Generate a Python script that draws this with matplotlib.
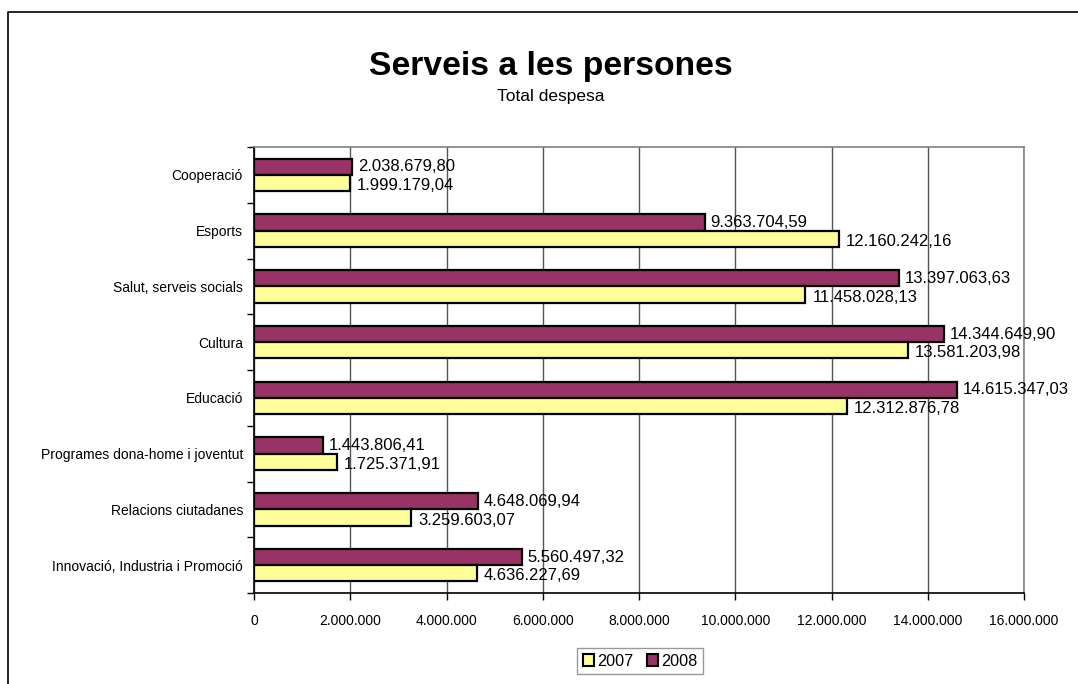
import matplotlib
matplotlib.use("Agg")
import matplotlib.pyplot as plt
from matplotlib.lines import Line2D
from matplotlib.patches import Patch
import numpy as np

categories = ["Cooperació", "Esports", "Salut, serveis socials", "Cultura", "Educació",
              "Programes dona-home i joventut", "Relacions ciutadanes",
              "Innovació, Industria i Promoció"]
values_2007 = [1999179.04, 12160242.16, 11458028.13, 13581203.98, 12312876.78,
               1725371.91, 3259603.07, 4636227.69]
values_2008 = [2038679.80, 9363704.59, 13397063.63, 14344649.90, 14615347.03,
               1443806.41, 4648069.94, 5560497.32]
labels_2007 = ["1.999.179,04", "12.160.242,16", "11.458.028,13", "13.581.203,98",
               "12.312.876,78", "1.725.371,91", "3.259.603,07", "4.636.227,69"]
labels_2008 = ["2.038.679,80", "9.363.704,59", "13.397.063,63", "14.344.649,90",
               "14.615.347,03", "1.443.806,41", "4.648.069,94", "5.560.497,32"]
xticks = [0, 2000000, 4000000, 6000000, 8000000, 10000000, 12000000, 14000000, 16000000]
xtick_labels = ["0", "2.000.000", "4.000.000", "6.000.000", "8.000.000", "10.000.000",
                "12.000.000", "14.000.000", "16.000.000"]

plt.rcParams['font.family'] = ['Liberation Sans', 'DejaVu Sans']

c2007 = "#FFFF99"
c2008 = "#993366"

fig = plt.figure(figsize=(10.78, 6.84), dpi=100)
ax = fig.add_axes([254/1078, 1 - 593/684, (1024-254)/1078, (593-147)/684])

n = len(categories)
y = np.arange(n)
h = 0.29
ax.barh(y - h/2, values_2008, height=h, color=c2008, edgecolor="black", linewidth=1.6, zorder=3)
ax.barh(y + h/2, values_2007, height=h, color=c2007, edgecolor="black", linewidth=1.6, zorder=3)

for i in range(n):
    ax.annotate(labels_2008[i], (values_2008[i], y[i] - h/2), xytext=(4, 0),
                textcoords="offset points", va="center", ha="left", fontsize=12, zorder=4)
    ax.annotate(labels_2007[i], (values_2007[i], y[i] + h/2), xytext=(5, -2),
                textcoords="offset points", va="center", ha="left", fontsize=12, zorder=4)

ax.set_xlim(0, 16000000)
ax.set_ylim(n - 0.5, -0.5)
ax.set_xticks(xticks)
ax.set_xticklabels(xtick_labels, fontsize=10)
ax.set_yticks(y)
ax.set_yticklabels(categories, fontsize=10)
ax.tick_params(axis="y", length=0, pad=8)
ax.set_yticks(np.arange(n + 1) - 0.5, minor=True)
ax.tick_params(axis="y", which="minor", length=5, width=1, color="black")
ax.tick_params(axis="x", length=5, width=1, pad=10)
ax.xaxis.grid(True, color="#555555", linewidth=1, zorder=0)
ax.set_axisbelow(True)
for s in ["left", "bottom"]:
    ax.spines[s].set_color("black")
    ax.spines[s].set_linewidth(1.2)
for s in ["top", "right"]:
    ax.spines[s].set_color("#808080")
    ax.spines[s].set_linewidth(1.2)

fig.text(551/1078, 1 - 67/684, "Serveis a les persones", ha="center", va="center",
         fontsize=24.2, fontweight="bold")
fig.text(551/1078, 1 - 97/684, "Total despesa", ha="center", va="center", fontsize=12.5)

handles = [Patch(facecolor=c2007, edgecolor="black", linewidth=1.5),
           Patch(facecolor=c2008, edgecolor="black", linewidth=1.5)]
leg = fig.legend(handles, ["2007", "2008"], loc="center", bbox_to_anchor=(640/1078, 1 - 661/684),
                 ncol=2, fontsize=11.7, frameon=True, fancybox=False, handlelength=0.7,
                 handleheight=0.7, handletextpad=0.2, columnspacing=0.8, borderpad=0.35,
                 borderaxespad=0, edgecolor="#808080")
leg.get_frame().set_linewidth(1)

fig.add_artist(Line2D([8/1078, 8/1078, 1.0], [0.0, 1 - 12/684, 1 - 12/684],
                      transform=fig.transFigure, color="black", linewidth=1.2))

fig.savefig("out.png", dpi=100)
